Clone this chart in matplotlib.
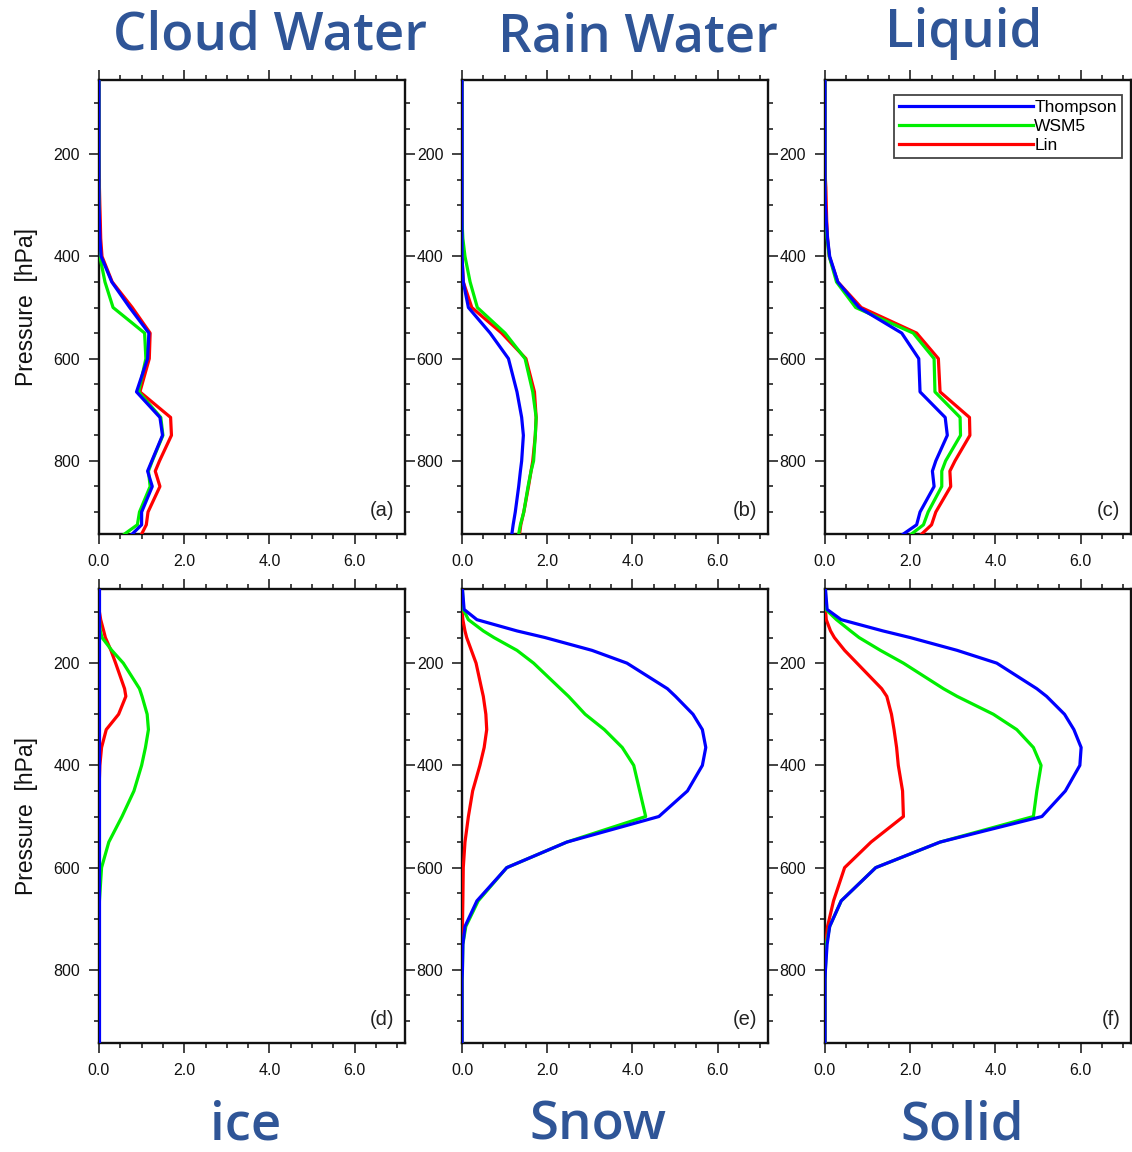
import matplotlib
matplotlib.use("Agg")
import matplotlib.pyplot as plt
from matplotlib.ticker import MultipleLocator, FixedLocator

# ---------------- data ----------------
pressure = [943, 925, 900, 850, 820, 800, 750, 715, 665, 600, 550, 500, 450,
            400, 365, 330, 300, 265, 250, 200, 175, 150, 137, 115, 95, 55]

schemes = ["Thompson", "WSM5", "Lin"]

cloud_thompson = [0.78, 1.00, 1.00, 1.25, 1.14, 1.24, 1.49, 1.43, 0.88, 1.14, 1.17, 0.72, 0.30,
                  0.05, 0.02, 0.01, 0, 0, 0, 0, 0, 0, 0, 0, 0, 0]
cloud_wsm5 = [0.60, 0.90, 0.95, 1.20, 1.16, 1.25, 1.50, 1.45, 0.93, 1.10, 1.07, 0.33, 0.14,
              0.02, 0.01, 0, 0, 0, 0, 0, 0, 0, 0, 0, 0, 0]
cloud_lin = [1.00, 1.11, 1.15, 1.43, 1.32, 1.42, 1.70, 1.68, 0.96, 1.18, 1.20, 0.78, 0.31,
             0.07, 0.04, 0.03, 0.02, 0.01, 0.01, 0, 0, 0, 0, 0, 0, 0]

rain_thompson = [1.17, 1.20, 1.25, 1.33, 1.37, 1.40, 1.44, 1.40, 1.29, 1.09, 0.66, 0.15, 0.03,
                 0, 0, 0, 0, 0, 0, 0, 0, 0, 0, 0, 0, 0]
rain_wsm5 = [1.33, 1.37, 1.45, 1.55, 1.62, 1.68, 1.72, 1.74, 1.66, 1.48, 1.01, 0.36, 0.19,
             0.07, 0.02, 0, 0, 0, 0, 0, 0, 0, 0, 0, 0, 0]
rain_lin = [1.35, 1.38, 1.45, 1.56, 1.62, 1.66, 1.72, 1.74, 1.70, 1.50, 0.93, 0.23, 0.03,
            0, 0, 0, 0, 0, 0, 0, 0, 0, 0, 0, 0, 0]

liquid_thompson = [1.84, 2.15, 2.23, 2.56, 2.52, 2.60, 2.87, 2.82, 2.23, 2.20, 1.80, 0.80, 0.30,
                   0.11, 0.06, 0.03, 0.01, 0, 0, 0, 0, 0, 0, 0, 0, 0]
liquid_wsm5 = [2.03, 2.31, 2.42, 2.74, 2.74, 2.83, 3.18, 3.17, 2.58, 2.56, 2.07, 0.72, 0.27,
               0.10, 0.05, 0.02, 0, 0, 0, 0, 0, 0, 0, 0, 0, 0]
liquid_lin = [2.27, 2.50, 2.60, 2.95, 2.93, 3.05, 3.40, 3.39, 2.70, 2.66, 2.15, 0.85, 0.30,
              0.10, 0.06, 0.04, 0.03, 0.02, 0.01, 0, 0, 0, 0, 0, 0, 0]

ice_thompson = [0.01, 0.01, 0.01, 0.01, 0.01, 0.01, 0.01, 0.01, 0.01, 0.01, 0.01, 0.01, 0.01,
                0.01, 0.01, 0.01, 0.01, 0.01, 0.01, 0.01, 0.01, 0.01, 0.01, 0.01, 0.01, 0.01]
ice_wsm5 = [0, 0, 0, 0, 0, 0, 0, 0, 0.01, 0.06, 0.23, 0.54, 0.82,
            1.00, 1.09, 1.16, 1.13, 1.01, 0.95, 0.57, 0.30, 0.07, 0.03, 0.01, 0, 0]
ice_lin = [0, 0, 0, 0, 0, 0, 0, 0, 0, 0, 0, 0, 0,
           0.02, 0.06, 0.17, 0.46, 0.63, 0.60, 0.39, 0.28, 0.15, 0.11, 0.04, 0, 0]

snow_thompson = [0, 0, 0, 0, 0, 0.01, 0.02, 0.07, 0.35, 1.05, 2.46, 4.62, 5.29,
                 5.64, 5.72, 5.64, 5.42, 5.01, 4.82, 3.87, 3.05, 1.95, 1.29, 0.35, 0.05, 0.01]
snow_wsm5 = [0, 0, 0, 0, 0, 0.01, 0.02, 0.09, 0.38, 1.05, 2.46, 4.31, 4.17,
             4.03, 3.76, 3.34, 2.89, 2.50, 2.31, 1.68, 1.29, 0.75, 0.50, 0.15, 0.03, 0.01]
snow_lin = [0, 0, 0, 0, 0, 0, 0.01, 0.01, 0.02, 0.03, 0.07, 0.15, 0.25,
            0.42, 0.52, 0.58, 0.56, 0.50, 0.46, 0.33, 0.22, 0.11, 0.07, 0.02, 0, 0]

solid_thompson = [0, 0, 0, 0, 0, 0.01, 0.05, 0.11, 0.38, 1.19, 2.70, 5.09, 5.64,
                  5.98, 6.01, 5.84, 5.62, 5.20, 4.97, 4.03, 3.10, 2.00, 1.36, 0.38, 0.05, 0.01]
solid_wsm5 = [0, 0, 0, 0, 0, 0.01, 0.03, 0.11, 0.38, 1.19, 2.70, 4.89, 4.97,
              5.07, 4.89, 4.50, 3.95, 3.10, 2.78, 1.84, 1.30, 0.80, 0.60, 0.27, 0.02, 0.01]
solid_lin = [0, 0, 0, 0, 0, 0, 0.02, 0.06, 0.20, 0.46, 1.08, 1.84, 1.82,
             1.72, 1.68, 1.62, 1.56, 1.45, 1.33, 0.75, 0.46, 0.22, 0.13, 0.03, 0.01, 0]

panel_titles = ["Cloud Water", "Rain Water", "Liquid", "ice", "Snow", "Solid"]
panel_letters = ["(a)", "(b)", "(c)", "(d)", "(e)", "(f)"]
x_ticks = [0, 2, 4, 6]
x_ticklabels = ["0.0", "2.0", "4.0", "6.0"]
y_ticks = [200, 400, 600, 800]
y_ticklabels = ["200", "400", "600", "800"]

panels = [
    (cloud_thompson, cloud_wsm5, cloud_lin),
    (rain_thompson, rain_wsm5, rain_lin),
    (liquid_thompson, liquid_wsm5, liquid_lin),
    (ice_thompson, ice_wsm5, ice_lin),
    (snow_thompson, snow_wsm5, snow_lin),
    (solid_thompson, solid_wsm5, solid_lin),
]

# ---------------- style ----------------
W, H = 1132, 1152
colors = ["#0000FF", "#00EE00", "#FF0000"]
title_color = "#2F5597"
tick_font = "Liberation Sans"

fig = plt.figure(figsize=(W / 100, H / 100), dpi=100)

col_left = [99, 462, 825]
ax_w = 306
row_top = [80, 589]
ax_h = 454

def fx(px):
    return px / W

def fy(py):
    return 1 - py / H

axes = []
for i in range(6):
    r, c = divmod(i, 3)
    ax = fig.add_axes([fx(col_left[c]), fy(row_top[r] + ax_h), ax_w / W, ax_h / H])
    axes.append(ax)
    th, ws, ln = panels[i]
    lw = 2.3
    h_lin, = ax.plot(ln, pressure, color=colors[2], lw=lw, zorder=3, label=schemes[2])
    h_ws, = ax.plot(ws, pressure, color=colors[1], lw=lw, zorder=4, label=schemes[1])
    h_th, = ax.plot(th, pressure, color=colors[0], lw=lw, zorder=5, label=schemes[0])
    ax.set_xlim(0, 7.18)
    ax.set_ylim(943, 55)
    ax.xaxis.set_major_locator(FixedLocator(x_ticks))
    ax.set_xticklabels(x_ticklabels)
    ax.xaxis.set_minor_locator(MultipleLocator(0.5))
    ax.yaxis.set_major_locator(FixedLocator(y_ticks))
    ax.set_yticklabels(y_ticklabels)
    ax.yaxis.set_minor_locator(FixedLocator(list(range(100, 950, 50))))
    ax.tick_params(which="both", direction="out", top=True, right=True,
                   labeltop=False, labelright=False, width=1.1, color="#111111")
    ax.tick_params(which="major", length=7.5)
    ax.tick_params(which="minor", length=3.8)
    ax.tick_params(axis="x", which="major", pad=7)
    ax.tick_params(axis="y", which="major", pad=6)
    for lab in ax.get_xticklabels() + ax.get_yticklabels():
        lab.set_fontfamily(tick_font)
        lab.set_fontsize(11.5)
        lab.set_color("#111111")
    for sp in ax.spines.values():
        sp.set_linewidth(1.7)
        sp.set_color("#111111")
    ax.text(0.965, 0.03, panel_letters[i], transform=ax.transAxes, ha="right",
            va="bottom", fontsize=14.5, family=tick_font, color="#222222")
    if i == 2:
        leg = ax.legend(handles=[h_th, h_ws, h_lin], loc="upper right",
                        bbox_to_anchor=(0.9706, 0.967), frameon=True, fancybox=False,
                        handlelength=7.7, handletextpad=0.1,
                        borderpad=0.3, labelspacing=0.22, borderaxespad=0.0,
                        prop={"family": tick_font, "size": 12.5})
        leg.get_frame().set_edgecolor("#444444")
        leg.get_frame().set_linewidth(1.3)
        leg.get_frame().set_alpha(1)

# y labels
for r in range(2):
    yc = row_top[r] + ax_h / 2
    fig.text(fx(27), fy(yc), "Pressure  [hPa]", rotation=90, ha="center", va="center",
             fontsize=16.5, family=tick_font, color="#111111")

# big titles
title_pos = [(270, 50), (638, 52), (964, 47), (246, 1140), (598, 1140), (962, 1139)]
for t, (x, y) in zip(panel_titles, title_pos):
    fig.text(fx(x), fy(y), t, ha="center", va="baseline", fontsize=38,
             family="Open Sans", weight="semibold", color=title_color)

fig.savefig("out.png", dpi=100, facecolor="white")
